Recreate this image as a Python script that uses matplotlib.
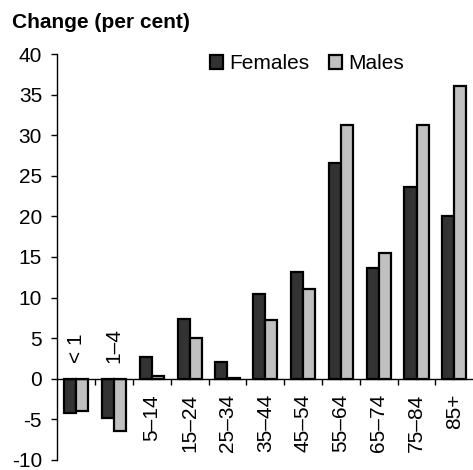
import numpy as np
import matplotlib
matplotlib.use('Agg')
import matplotlib.pyplot as plt
from matplotlib.patches import Patch

plt.rcParams['font.family'] = ['Liberation Sans', 'DejaVu Sans']
plt.rcParams['axes.unicode_minus'] = False

# age groups and percentage change
ages = ['< 1', '1\u20134', '5\u201314', '15\u201324', '25\u201334', '35\u201344',
        '45\u201354', '55\u201364', '65\u201374', '75\u201384', '85+']
females = [-4.2, -4.9, 2.7, 7.3, 2.1, 10.4, 13.1, 26.6, 13.7, 23.6, 20.0]
males = [-4.0, -6.5, 0.3, 5.0, 0.1, 7.2, 11.0, 31.2, 15.5, 31.2, 36.0]

dark = '#333333'
light = '#c0c0c0'
fs = 15

fig = plt.figure(figsize=(4.73, 4.70), dpi=100)
ax = fig.add_axes([0.1211, 0.0215, 0.8795, 0.8636])

x = np.arange(len(ages))
w = 0.32
ax.bar(x - w/2, females, w, color=dark, edgecolor='black', linewidth=1.6)
ax.bar(x + w/2, males, w, color=light, edgecolor='black', linewidth=1.6)

ax.set_xlim(-0.5, len(ages) - 0.5)
ax.set_ylim(-10, 40)
ax.set_yticks(np.arange(-10, 41, 5))
ax.tick_params(axis='y', direction='out', length=4, width=1, labelsize=fs, pad=7)

ax.spines['top'].set_visible(False)
ax.spines['right'].set_visible(False)
ax.spines['bottom'].set_position(('data', 0))
ax.spines['left'].set_linewidth(1)
ax.spines['bottom'].set_linewidth(1)

# tick marks between the groups, no labels there
ax.set_xticks(x[:-1] + 0.5)
ax.set_xticklabels([])
ax.tick_params(axis='x', direction='out', length=4.5, width=1)

# group labels: above the axis for negative groups, below for the rest
for i, lab in enumerate(ages):
    if min(females[i], males[i]) < 0:
        ax.annotate(lab, (i, 0), xytext=(0, 11), textcoords='offset points',
                    rotation=90, ha='center', va='bottom', fontsize=fs)
    else:
        ax.annotate(lab, (i, 0), xytext=(0, -11), textcoords='offset points',
                    rotation=90, ha='center', va='top', fontsize=fs)

handles = [Patch(facecolor=dark, edgecolor='black', linewidth=1.6, label='Females'),
           Patch(facecolor=light, edgecolor='black', linewidth=1.6, label='Males')]
fig.legend(handles=handles, loc='center left', bbox_to_anchor=(0.444, 0.864), ncol=2,
           frameon=False, fontsize=fs, handlelength=0.62, handleheight=0.62,
           handletextpad=0.3, columnspacing=0.95, borderaxespad=0, borderpad=0)

fig.text(0.025, 0.940, 'Change (per cent)', fontsize=fs, fontweight='bold',
         ha='left', va='baseline')

fig.savefig('out.png', dpi=100)
